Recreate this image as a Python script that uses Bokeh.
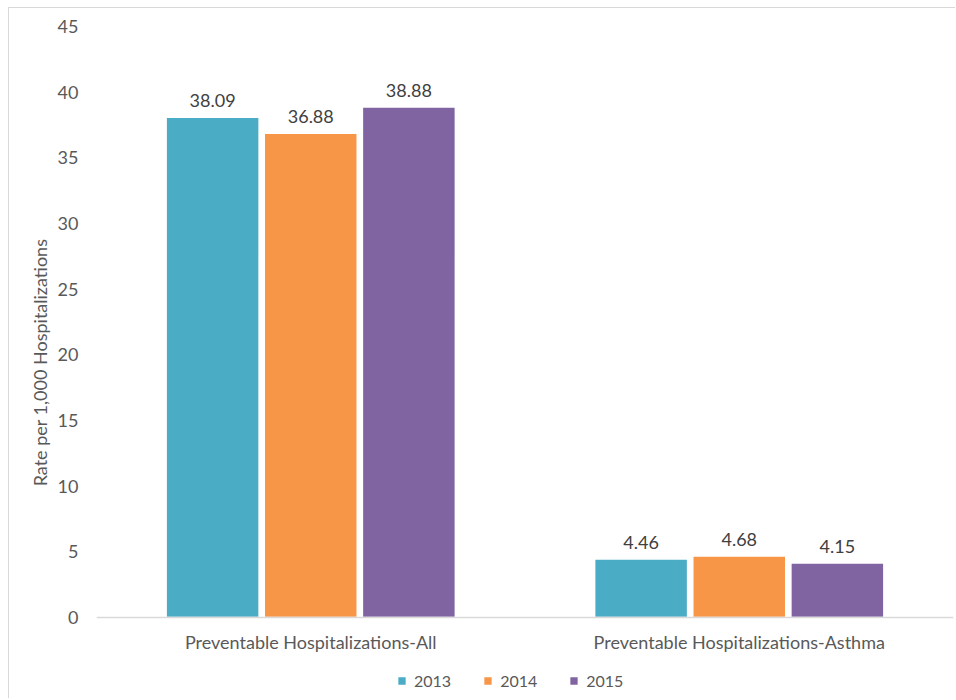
from bokeh.plotting import figure
from bokeh.models import FactorRange, Legend, LegendItem, ColumnDataSource, FixedTicker
from bokeh.transform import dodge
from bokeh.core.properties import value
from bokeh.embed import file_html
from bokeh.resources import INLINE

categories = ["Preventable Hospitalizations-All", "Preventable Hospitalizations-Asthma"]
years = ["2013", "2014", "2015"]
v2013 = [38.09, 4.46]
v2014 = [36.88, 4.68]
v2015 = [38.88, 4.15]
y_ticks = [0, 5, 10, 15, 20, 25, 30, 35, 40, 45]
colors = ["#4BACC6", "#F79646", "#8064A2"]

FONT = "Lato"

src = ColumnDataSource(dict(cat=categories, y2013=v2013, y2014=v2014, y2015=v2015,
                            l2013=[f"{v:.2f}" for v in v2013],
                            l2014=[f"{v:.2f}" for v in v2014],
                            l2015=[f"{v:.2f}" for v in v2015]))

# frame extends below zero to leave room for the legend; x axis sits at y=0
FRAME_H = 672
PX_PER_UNIT = 591 / 45.0
y_start = -(FRAME_H - 591) / PX_PER_UNIT

p = figure(x_range=FactorRange(*categories, range_padding=0), y_range=(y_start, 45),
           frame_width=857, frame_height=FRAME_H, output_backend="svg", toolbar_location=None,
           min_border_left=87, min_border_right=2, min_border_top=18, min_border_bottom=0)
p.margin = (7, 0, 0, 8)
p.styles = {"border-top": "1px solid #d9d9d9", "border-left": "1px solid #d9d9d9"}
p.outline_line_color = None
p.grid.grid_line_color = None

offsets = [-0.229, 0.0, 0.229]
bw = 0.217
renderers = []
for yr, off, col in zip(years, offsets, colors):
    r = p.vbar(x=dodge("cat", off, range=p.x_range), top="y" + yr, width=bw, bottom=0,
               source=src, fill_color=col, line_color="white", line_width=1.5)
    renderers.append(r)
    p.text(x=dodge("cat", off, range=p.x_range), y="y" + yr, text="l" + yr, source=src,
           text_align="center", text_baseline="bottom", y_offset=-10,
           text_font=value(FONT), text_font_size="18px", text_color="#404040")

# axes
p.yaxis.ticker = FixedTicker(ticks=y_ticks)
p.yaxis.axis_line_color = None
p.yaxis.major_tick_line_color = None
p.yaxis.minor_tick_line_color = None
p.yaxis.major_label_text_font = FONT
p.yaxis.major_label_text_font_size = "18px"
p.yaxis.major_label_text_color = "#595959"
p.yaxis.major_label_standoff = 12
p.yaxis.axis_label = "Rate per 1,000 Hospitalizations"
p.yaxis.axis_label_text_font = FONT
p.yaxis.axis_label_text_font_size = "18px"
p.yaxis.axis_label_text_font_style = "normal"
p.yaxis.axis_label_text_color = "#595959"
p.yaxis.axis_label_standoff = 4

p.xaxis.fixed_location = 0
p.xaxis.axis_line_color = "#d9d9d9"
p.xaxis.axis_line_width = 1.5
p.xaxis.major_tick_line_color = None
p.xaxis.minor_tick_line_color = None
p.xaxis.major_label_text_font = FONT
p.xaxis.major_label_text_font_size = "18px"
p.xaxis.major_label_text_color = "#595959"
p.xaxis.major_label_standoff = 7

legend = Legend(items=[LegendItem(label=yr, renderers=[r]) for yr, r in zip(years, renderers)],
                orientation="horizontal", location=(300, 8),
                label_text_font=FONT, label_text_font_size="16px", label_text_color="#595959",
                glyph_width=11, glyph_height=11, label_standoff=7, spacing=31,
                border_line_color=None, background_fill_alpha=0, padding=0, margin=0)
p.add_layout(legend, "center")

open("out.html", "w").write(file_html(p, INLINE))
